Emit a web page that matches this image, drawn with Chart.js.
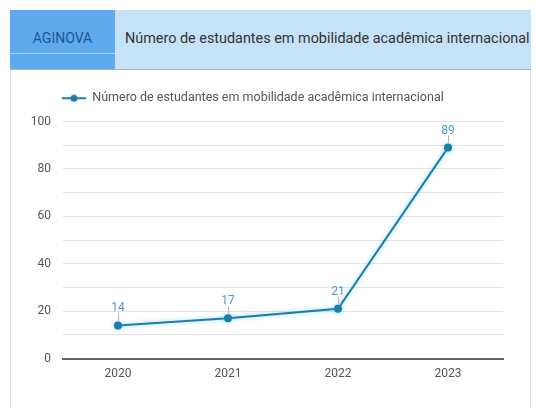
<!DOCTYPE html>
<html><head><meta charset="utf-8">
<script src="https://cdn.jsdelivr.net/npm/chart.js@4/dist/chart.umd.min.js"></script>
<style>
html,body{margin:0;padding:0;background:#fff;width:541px;height:408px;overflow:hidden;font-family:Roboto,sans-serif;}
#hdr{position:absolute;left:10px;top:10px;width:521px;height:60px;background:#c6e2f7;border-bottom:1px solid #9fb6c8;box-sizing:border-box;}
#tab{position:absolute;left:0;top:0;width:105px;height:59px;background:#5eaaee;}
#tab .ln{position:absolute;left:0;top:43px;width:105px;height:1px;background:#a9d2f6;}
#tab span{position:absolute;left:0;width:105px;top:20px;text-align:center;font-size:14px;color:#1f5790;}
#ttl{position:absolute;left:115px;top:20px;font-size:14.4px;color:#333;white-space:nowrap;}
#panel{position:absolute;left:10px;top:70px;width:521px;height:338px;border-left:1px solid #e2e2e2;border-right:1px solid #e2e2e2;box-sizing:border-box;}
#wrap{position:absolute;left:11px;top:72px;width:519px;height:336px;}
</style></head><body>
<div id="hdr"><div id="tab"><span>AGINOVA</span><div class="ln"></div></div><div id="ttl">Número de estudantes em mobilidade acadêmica internacional</div></div>
<div id="panel"></div>
<div id="wrap"><canvas id="c" width="519" height="336"></canvas></div>
<script>
const categories = ['2020', '2021', '2022', '2023'];
const seriesName = 'Número de estudantes em mobilidade acadêmica internacional';
const values = [14, 17, 21, 89];
const yTickLabels = [0, 20, 40, 60, 80, 100];

const lineColor = '#1c7ea8';

// legend icon: line with dot
const icon = document.createElement('canvas');
icon.width = 24; icon.height = 10;
(function(){const g = icon.getContext('2d');
g.strokeStyle = lineColor; g.lineWidth = 2; g.beginPath(); g.moveTo(0,5); g.lineTo(24,5); g.stroke();
g.fillStyle = lineColor; g.beginPath(); g.arc(12,5,3.5,0,Math.PI*2); g.fill();})();

const labelPlugin = {
  id: 'valLabels',
  afterDatasetsDraw(chart) {
    const ctx = chart.ctx;
    const meta = chart.getDatasetMeta(0);
    ctx.save();
    ctx.font = '12px Roboto, sans-serif';
    ctx.fillStyle = '#4a9ad0';
    ctx.textAlign = 'center';
    ctx.textBaseline = 'alphabetic';
    meta.data.forEach((pt, i) => {
      ctx.strokeStyle = '#d9a0b0';
      ctx.lineWidth = 1;
      ctx.beginPath(); ctx.moveTo(pt.x + 0.5, pt.y - 5); ctx.lineTo(pt.x + 0.5, pt.y - 12); ctx.stroke();
      ctx.fillText(String(chart.data.datasets[0].data[i]), pt.x, pt.y - 14);
    });
    ctx.restore();
  }
};
const glowPlugin = {
  id: 'glow',
  beforeDatasetDraw(chart) { const c = chart.ctx; c.save(); c.shadowColor = 'rgba(90,200,240,0.7)'; c.shadowBlur = 4; },
  afterDatasetDraw(chart) { chart.ctx.restore(); }
};
const legendShift = {
  id: 'legendShift',
  afterLayout(chart) { const lg = chart.legend; lg.left += chart.chartArea.left - 18 - lg.left; lg.top -= 7; }
};

new Chart(document.getElementById('c'), {
  type: 'line',
  data: { labels: categories, datasets: [{ label: seriesName, data: values, borderColor: lineColor, backgroundColor: lineColor, borderWidth: 2, pointRadius: 4, pointHoverRadius: 4, pointBackgroundColor: lineColor, pointBorderWidth: 0, tension: 0 }] },
  options: {
    responsive: false, animation: false, devicePixelRatio: 1,
    layout: { padding: { left: 0, right: 27, top: 10, bottom: 27 } },
    plugins: {
      legend: { align: 'start', labels: { usePointStyle: true, pointStyle: icon, pointStyleWidth: 24, font: { family: 'Roboto', size: 12.5 }, color: '#555', padding: 17 } },
      tooltip: { enabled: false }
    },
    scales: {
      x: { offset: true, grid: { display: false }, border: { display: true, color: '#666', width: 2 }, ticks: { font: { family: 'Roboto', size: 12 }, color: '#555', padding: 0 } },
      y: { min: 0, max: 100, afterFit(s) { s.width = 52; },
        border: { display: false },
        grid: { color: '#e3e3e3', drawTicks: false },
        ticks: { stepSize: 10, padding: 12, font: { family: 'Roboto', size: 12 }, color: '#555', callback: (v) => yTickLabels.includes(v) ? String(v) : '' } }
    }
  },
  plugins: [labelPlugin, glowPlugin, legendShift]
});
</script>
</body></html>
